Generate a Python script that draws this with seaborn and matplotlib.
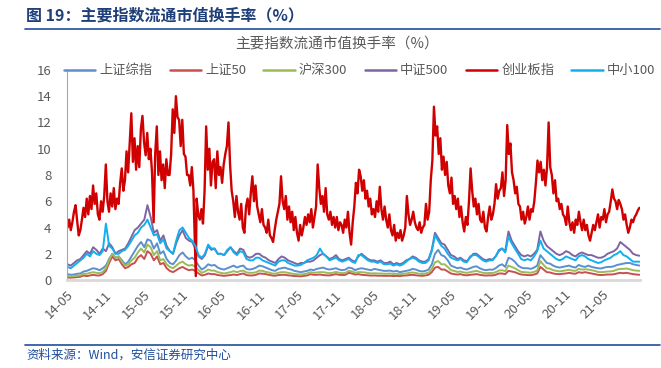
#-*- coding: utf-8 -*
import matplotlib
matplotlib.use("Agg")
import matplotlib.pyplot as plt
import seaborn as sns
import numpy as np
import pandas as pd

# 创业板指：每月4个点（2014-05 ~ 2021-10）
cyb = [4.0, 4.6, 3.8, 4.4, 5.2, 5.7, 4.5, 3.4, 3.8, 4.6, 5.5, 4.8, 6.2, 5.0, 6.4, 5.4,
       7.2, 5.8, 6.6, 5.0, 4.6, 6.0, 5.2, 6.4, 8.8, 6.0, 5.2, 6.6, 5.6, 7.0, 5.4, 6.2,
       5.8, 7.4, 8.5, 6.8, 7.6, 9.8, 8.2, 10.5, 12.7, 9.0, 10.8, 8.4, 10.2, 8.6, 11.5, 12.5,
       10.5, 9.5, 11.2, 9.2, 10.0, 8.2, 4.4, 9.6, 11.7, 8.0, 9.8, 7.6, 8.8, 7.0, 9.2, 8.0,
       8.0, 9.6, 13.0, 11.2, 14.0, 12.4, 12.2, 10.2, 12.2, 9.6, 9.4, 8.0, 8.0, 7.2, 8.6, 6.8,
       0.3, 6.2, 5.0, 4.6, 5.4, 4.3, 6.8, 11.7, 8.4, 10.0, 7.2, 9.0, 9.2, 7.0, 9.8, 8.0,
       8.6, 7.4, 8.8, 9.6, 10.2, 12.0, 8.8, 6.8, 6.0, 4.8, 6.4, 5.2, 4.6, 5.8, 4.0, 3.6,
       5.6, 6.2, 5.0, 6.6, 7.9, 6.0, 7.2, 5.6, 5.0, 4.4, 5.4, 4.2, 4.0, 3.6, 4.6, 3.4,
       3.2, 2.9, 3.8, 4.6, 5.2, 5.8, 7.9, 6.0, 5.4, 6.4, 4.6, 5.6, 4.4, 5.2, 3.8, 4.8,
       3.6, 3.0, 4.2, 3.4, 4.0, 4.8, 4.2, 5.0, 4.4, 5.4, 4.0, 4.8, 5.6, 8.8, 7.0, 5.8,
       6.4, 5.2, 7.0, 5.0, 4.6, 5.2, 4.2, 4.8, 4.0, 4.8, 3.8, 4.4, 4.2, 3.6, 4.6, 4.0,
       5.2, 3.6, 2.7, 4.4, 5.6, 7.4, 6.6, 8.4, 7.9, 6.8, 7.6, 6.2, 6.8, 5.6, 6.2, 5.0,
       5.4, 4.8, 6.0, 5.2, 7.1, 5.4, 4.6, 5.6, 4.6, 4.0, 5.0, 3.8, 3.4, 4.2, 3.0, 3.6,
       3.2, 3.8, 3.0, 3.4, 4.0, 6.4, 5.0, 4.2, 4.6, 5.2, 4.4, 4.0, 3.8, 4.4, 3.6, 4.0,
       4.2, 5.8, 4.6, 5.2, 7.6, 9.1, 13.2, 11.0, 11.7, 9.6, 10.8, 8.4, 9.4, 8.0, 9.0, 7.2,
       6.6, 7.8, 5.8, 6.4, 5.4, 6.2, 4.8, 5.6, 4.4, 3.7, 4.8, 4.2, 6.0, 8.5, 6.8, 5.6,
       6.2, 5.0, 5.8, 4.6, 4.4, 5.2, 4.0, 3.7, 4.8, 5.6, 4.6, 5.0, 5.8, 7.3, 6.2, 6.8,
       7.0, 8.2, 6.4, 7.6, 11.8, 9.6, 10.4, 8.2, 7.6, 6.6, 7.1, 5.8, 5.6, 4.6, 5.2, 4.3,
       4.8, 5.6, 4.6, 5.4, 5.2, 6.0, 7.4, 9.1, 8.2, 9.0, 7.6, 8.4, 7.2, 8.6, 12.0, 8.6,
       8.0, 6.6, 7.6, 6.0, 6.2, 5.4, 5.8, 5.0, 4.8, 4.2, 5.6, 4.4, 3.8, 4.4, 3.6, 4.6,
       4.2, 5.2, 4.4, 3.8, 4.6, 3.8, 4.2, 3.4, 3.0, 3.6, 4.2, 3.8, 4.4, 5.0, 4.0, 4.8,
       4.6, 5.4, 4.4, 5.0, 5.2, 6.0, 6.9, 6.2, 6.0, 5.4, 6.1, 5.8, 5.4, 4.6, 5.0, 4.2,
       3.6, 4.0, 4.6, 4.4, 4.8, 5.0, 5.3, 5.5]

# 其余指数：每月2个点
szzz = [.45, .4, .42, .48, .5, .65, .7, .8, .9, .85, .75, .9, 1.1, 1.6, 2.0, 1.7,
        1.8, 1.5, 1.2, 1.4, 1.8, 2.2, 2.6, 2.9, 2.5, 3.1, 3.0, 2.4, 2.8, 2.0, 2.2, 1.6, 1.3, 1.2, 1.5, 1.9, 2.1, 1.8, 1.6, 1.7,
        1.5, 1.1, .8, .95, 1.2, 1.1, 1.15, .95, .85, .8, .9, 1.0, 1.1, .95, 1.05, 1.1, .85, .8, .85, .95, 1.1, 1.05, .95, .85,
        .75, .7, .85, .9, .95, .85, .8, .7, .65, .6, .65, .7, .8, .75, .85, .9, .95, .85, .8, .85, .9, .8, .75, .8,
        .95, .9, .75, .85, .9, .85, .8, .75, .85, .8, .75, .7, .7, .72, .65, .7, .6, .65, .7, .75, .85, .8, .7, .65,
        .7, .8, 1.2, 2.0, 2.3, 1.9, 1.8, 1.5, 1.1, 1.0, .9, .95, .85, .8, .9, 1.0, 1.05, .9, .8, .75, .8, .78, .9, 1.1,
        1.2, 1.0, 1.7, 1.6, 1.4, 1.1, .95, .9, .9, .85, .95, 1.1, 1.9, 1.6, 1.3, 1.25, 1.1, 1.0, .95, 1.0, 1.05, 1.1, 1.0, .95,
        1.15, 1.05, 1.0, 1.1, 1.0, .95, .9, .88, .95, 1.0, 1.0, 1.05, 1.15, 1.2, 1.25, 1.3, 1.3, 1.2, 1.15, 1.1]
sz50 = [.2, .18, .2, .22, .25, .35, .3, .35, .4, .35, .35, .45, .7, 1.3, 1.8, 1.5,
        1.6, 1.2, .9, 1.0, 1.2, 1.3, 1.7, 1.9, 1.6, 2.2, 2.0, 1.5, 1.8, 1.2, 1.3, .9, .7, .6, .75, .9, 1.0, .85, .75, .8,
        .7, .5, .35, .4, .5, .45, .45, .38, .35, .32, .35, .38, .42, .38, .45, .5, .38, .35, .35, .4, .5, .48, .45, .4,
        .35, .33, .38, .4, .4, .36, .34, .3, .3, .28, .32, .35, .45, .4, .4, .42, .38, .36, .35, .4, .45, .4, .38, .4,
        .55, .5, .42, .45, .4, .38, .36, .34, .35, .33, .33, .32, .32, .33, .3, .32, .3, .34, .35, .38, .4, .36, .34, .32,
        .35, .4, .6, .95, 1.0, .8, .8, .65, .5, .45, .42, .45, .38, .36, .4, .42, .45, .4, .36, .34, .36, .35, .4, .5,
        .5, .45, .7, .65, .6, .5, .42, .4, .38, .37, .42, .5, 1.0, .8, .6, .58, .5, .46, .45, .48, .5, .55, .5, .48,
        .6, .55, .6, .55, .5, .45, .4, .38, .4, .42, .42, .44, .5, .55, .52, .55, .5, .45, .42, .4]
hs300 = [.3, .28, .3, .33, .36, .48, .48, .55, .6, .55, .52, .62, .9, 1.5, 2.0, 1.7,
         1.8, 1.4, 1.1, 1.2, 1.5, 1.7, 2.1, 2.4, 2.1, 2.7, 2.5, 1.9, 2.2, 1.5, 1.6, 1.2, 1.0, .9, 1.1, 1.3, 1.4, 1.2, 1.1, 1.15,
         1.0, .75, .55, .65, .8, .72, .72, .6, .55, .5, .55, .6, .68, .6, .68, .72, .58, .55, .55, .6, .72, .7, .62, .58,
         .5, .48, .56, .6, .6, .55, .5, .46, .44, .42, .45, .5, .6, .55, .58, .6, .6, .56, .52, .56, .62, .56, .52, .55,
         .7, .66, .56, .6, .6, .58, .54, .5, .52, .5, .5, .48, .48, .5, .45, .48, .44, .48, .5, .55, .58, .54, .48, .46,
         .5, .56, .85, 1.35, 1.45, 1.2, 1.2, 1.0, .75, .7, .62, .65, .58, .55, .6, .65, .7, .62, .55, .52, .54, .53, .6, .72,
         .75, .68, 1.1, 1.0, .9, .75, .62, .6, .58, .56, .62, .72, 1.45, 1.15, .9, .86, .75, .7, .66, .7, .74, .78, .72, .7,
         .85, .8, .82, .8, .75, .7, .62, .6, .62, .65, .66, .7, .8, .85, .85, .88, .82, .75, .72, .7]
zz500 = [1.2, 1.1, 1.3, 1.5, 1.6, 1.9, 2.2, 2.0, 2.5, 2.3, 2.0, 2.4, 2.2, 2.8, 2.5, 2.0,
         2.2, 2.3, 2.4, 2.8, 3.3, 3.8, 4.0, 4.3, 4.6, 5.7, 4.8, 3.6, 3.8, 3.0, 3.4, 2.6, 2.2, 2.0, 2.8, 3.4, 3.8, 3.2, 3.0, 2.9,
         2.4, 1.8, 1.6, 1.9, 2.6, 2.3, 2.4, 2.0, 2.0, 1.9, 2.2, 2.5, 2.2, 2.0, 2.4, 2.3, 1.8, 1.7, 1.8, 2.0, 2.0, 1.8, 1.7, 1.5,
         1.4, 1.3, 1.6, 1.8, 1.7, 1.5, 1.4, 1.3, 1.2, 1.3, 1.3, 1.4, 1.4, 1.5, 1.7, 1.9, 2.0, 1.8, 1.6, 1.7, 1.9, 1.6, 1.5, 1.6,
         1.7, 1.5, 1.4, 1.8, 2.0, 1.8, 1.6, 1.5, 1.5, 1.4, 1.5, 1.3, 1.3, 1.4, 1.2, 1.3, 1.2, 1.3, 1.5, 1.6, 1.8, 1.7, 1.5, 1.4,
         1.4, 1.6, 2.3, 3.6, 3.2, 2.8, 2.7, 2.3, 1.9, 1.8, 1.6, 1.7, 1.5, 1.45, 1.7, 2.0, 2.0, 1.8, 1.6, 1.5, 1.6, 1.55, 1.8, 2.2,
         2.4, 2.2, 3.7, 3.0, 2.6, 2.2, 1.9, 1.8, 1.9, 1.8, 2.0, 2.3, 3.7, 3.0, 2.6, 2.4, 2.2, 2.0, 1.9, 2.0, 2.2, 2.1, 1.9, 1.8,
         2.0, 2.1, 2.0, 1.9, 1.9, 1.8, 1.7, 1.7, 1.8, 2.0, 2.1, 2.2, 2.4, 2.9, 2.7, 2.5, 2.3, 2.0, 1.9, 1.85]
zx100 = [1.0, .9, 1.1, 1.3, 1.5, 1.7, 2.0, 1.8, 2.2, 2.0, 1.9, 2.2, 4.3, 2.6, 2.4, 2.0,
         2.0, 2.2, 2.3, 2.6, 3.0, 3.4, 3.6, 4.0, 4.2, 4.6, 4.0, 3.4, 3.5, 2.8, 3.1, 2.4, 2.2, 2.0, 3.0, 3.8, 4.0, 3.6, 3.2, 3.0,
         2.6, 1.9, 1.7, 2.0, 2.7, 2.4, 2.4, 2.0, 2.0, 1.9, 2.3, 2.5, 2.1, 1.9, 2.2, 2.1, 1.6, 1.5, 1.5, 1.7, 1.7, 1.5, 1.4, 1.3,
         1.2, 1.1, 1.4, 1.5, 1.5, 1.3, 1.2, 1.1, 1.1, 1.15, 1.3, 1.5, 1.6, 1.7, 1.9, 2.4, 2.0, 1.8, 1.5, 1.6, 1.7, 1.5, 1.4, 1.5,
         1.6, 1.4, 1.3, 1.9, 1.9, 1.7, 1.5, 1.4, 1.4, 1.3, 1.4, 1.2, 1.2, 1.25, 1.1, 1.2, 1.1, 1.2, 1.4, 1.6, 1.7, 1.6, 1.4, 1.3,
         1.3, 1.5, 2.2, 3.4, 3.0, 2.6, 2.4, 2.0, 1.7, 1.6, 1.5, 1.6, 1.4, 1.35, 1.8, 1.9, 1.9, 1.7, 1.5, 1.4, 1.5, 1.5, 1.8, 2.3,
         2.4, 2.1, 3.3, 2.8, 2.4, 2.0, 1.6, 1.5, 1.6, 1.5, 1.8, 2.2, 3.0, 2.4, 2.2, 2.0, 1.8, 1.6, 1.5, 1.6, 1.8, 1.7, 1.6, 1.5,
         1.8, 1.9, 1.8, 1.6, 1.5, 1.4, 1.3, 1.35, 1.5, 1.6, 1.7, 1.9, 2.0, 2.2, 1.9, 1.8, 1.6, 1.4, 1.4, 1.4]

names = ['上证综指', '上证50', '沪深300', '中证500', '创业板指', '中小100']
colors = ['#5B8FD0', '#C8504D', '#9BBB59', '#8064A2', '#D00000', '#10B0F0']
widths = [1.4, 1.4, 1.4, 1.4, 1.7, 1.4]
ticks = ['14-05', '14-11', '15-05', '15-11', '16-05', '16-11', '17-05', '17-11',
         '18-05', '18-11', '19-05', '19-11', '20-05', '20-11', '21-05']

d_week = pd.date_range('2014-05-05', '2021-10-25', periods=len(cyb))
d_half = pd.date_range('2014-05-05', '2021-10-25', periods=len(szzz))
# 熔断那天 2016-01-07
d_week = d_week.where(np.arange(len(cyb)) != 80, pd.Timestamp('2016-01-07'))

series = dict(zip(names, [szzz, sz50, hs300, zz500, cyb, zx100]))

sns.set_theme(style='white')
plt.rcParams['font.family'] = ['Noto Sans CJK SC', 'DejaVu Sans']
plt.rcParams['axes.unicode_minus'] = False

fig = plt.figure(figsize=(6.61, 3.68), dpi=100)
ax = fig.add_axes([0.101, 0.239, 0.867, 0.571])
for n, c, w in zip(names, colors, widths):
    d = d_week if n == '创业板指' else d_half
    sns.lineplot(x=d, y=series[n], color=c, linewidth=w, ax=ax)

ax.set_ylim(0, 16)
ax.set_yticks(range(0, 17, 2))
ax.set_xlim(pd.Timestamp('2014-05-01'), pd.Timestamp('2021-10-27'))
tk = [pd.Timestamp('20' + t[:2] + '-' + t[3:] + '-01') for t in ticks]
ax.set_xticks(tk)
ax.set_xticklabels(ticks, rotation=45, ha='right', rotation_mode='anchor')
ax.set_xlabel('')
ax.set_ylabel('')
ax.tick_params(axis='both', colors='#595959', labelsize=9.5, length=3, width=0.8, direction='out')
ax.tick_params(axis='y', pad=8)
ax.tick_params(axis='x', colors='#D0D0D0', labelcolor='#595959', pad=3)
for s in ['top', 'right']:
    ax.spines[s].set_visible(False)
ax.spines['left'].set_color('#A6A6A6')
ax.spines['left'].set_linewidth(0.8)
ax.spines['bottom'].set_color('#D9D9D9')
ax.spines['bottom'].set_linewidth(2)

# 图例
handles = [plt.Line2D([], [], color=c, lw=1.8) for c in colors]
fig.legend(handles, names, loc='center', bbox_to_anchor=(0.544, 0.808), ncol=6, frameon=False,
           fontsize=9.5, handlelength=2.4, columnspacing=1.3, handletextpad=0.3,
           labelcolor='#595959', borderpad=0, borderaxespad=0)

# 标题和来源
fig.text(0.04, 0.958, '图 19：主要指数流通市值换手率（%）', fontsize=11.5, fontweight='bold',
         color='#1F3F7A', va='center', ha='left')
fig.add_artist(plt.Line2D([0.038, 0.998], [0.922, 0.922], color='#1F4E9C', lw=1.2))
fig.text(0.51, 0.88, '主要指数流通市值换手率（%）', fontsize=10.5, color='#595959',
         ha='center', va='center')
fig.add_artist(plt.Line2D([0.038, 0.998], [0.062, 0.062], color='#1F4E9C', lw=1.2))
fig.text(0.04, 0.035, '资料来源：Wind，安信证券研究中心', fontsize=9, color='#1F4E9C',
         style='italic', va='center', ha='left')

fig.savefig('out.png', dpi=100)
